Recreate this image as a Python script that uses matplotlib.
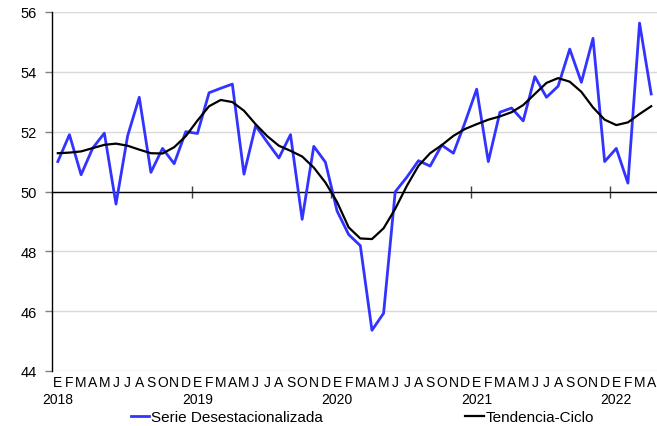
import numpy as np
import matplotlib
matplotlib.use("Agg")
import matplotlib.pyplot as plt
import matplotlib.transforms as mtransforms

plt.rcParams['font.family'] = ['Liberation Sans', 'DejaVu Sans']

# monthly data Jan 2018 - Apr 2022
meses = ['E', 'F', 'M', 'A', 'M', 'J', 'J', 'A', 'S', 'O', 'N', 'D']
anios = ['2018', '2019', '2020', '2021', '2022']
n_meses = 52

serie = [51.0, 51.9, 50.56, 51.45, 51.95, 49.58, 51.86, 53.15, 50.64, 51.44, 50.93, 52.0,
         51.94, 53.3, 53.45, 53.59, 50.58, 52.2, 51.65, 51.12, 51.9, 49.07, 51.51, 50.98,
         49.35, 48.56, 48.19, 45.36, 45.93, 49.99, 50.48, 51.03, 50.85, 51.55, 51.28, 52.31,
         53.42, 51.0, 52.65, 52.79, 52.36, 53.84, 53.15, 53.52, 54.76, 53.65, 55.12, 51.0,
         51.44, 50.28, 55.63, 53.26]
tendencia = [51.28, 51.3, 51.34, 51.45, 51.56, 51.6, 51.53, 51.4, 51.28, 51.27, 51.48, 51.85,
             52.37, 52.85, 53.06, 52.99, 52.7, 52.25, 51.85, 51.53, 51.36, 51.17, 50.8, 50.3,
             49.65, 48.8, 48.43, 48.41, 48.77, 49.42, 50.19, 50.86, 51.28, 51.55, 51.86, 52.09,
             52.25, 52.4, 52.51, 52.65, 52.89, 53.26, 53.63, 53.79, 53.67, 53.33, 52.81, 52.4,
             52.22, 52.31, 52.59, 52.85]

x = np.arange(n_meses)

fig = plt.figure(figsize=(6.57, 4.27), dpi=100)
ax = fig.add_axes([52/657, 1-372/427, 1-52/657, (372-13)/427])

ax.plot(x, serie, color='#3333ff', lw=2.0, label='Serie Desestacionalizada', zorder=3)
ax.plot(x, tendencia, color='black', lw=1.6, label='Tendencia-Ciclo', zorder=4)

ax.set_xlim(-0.5, n_meses - 0.5)
ax.set_ylim(44, 56)
ax.set_yticks(range(44, 57, 2))
ax.yaxis.grid(True, color='#d9d9d9', lw=1)
ax.set_axisbelow(True)

for s in ['top', 'right']:
    ax.spines[s].set_visible(False)
ax.spines['left'].set_color('black')
ax.spines['left'].set_linewidth(1)
ax.spines['bottom'].set_position(('data', 50))
ax.spines['bottom'].set_color('black')
ax.spines['bottom'].set_linewidth(1)
ax.spines['bottom'].set_zorder(2)

ax.set_xticks(np.arange(11.5, n_meses, 12))
ax.tick_params(axis='x', direction='inout', length=8, width=1, color='#404040', labelbottom=False)
ax.tick_params(axis='y', direction='out', length=5, width=1, color='#808080', labelsize=10.5, pad=6)

# month letters and years under the plot
trans = mtransforms.blended_transform_factory(ax.transData, fig.transFigure)
for i in x:
    ax.text(i, 1-383/427, meses[i % 12], transform=trans, ha='center', va='center', fontsize=10)
for k, a in enumerate(anios):
    ax.text(12*k, 1-400/427, a, transform=trans, ha='center', va='center', fontsize=10)

fig.legend(loc='center', bbox_to_anchor=(0.552, 1-418/427), ncol=2, frameon=False,
           fontsize=11, handlelength=1.2, handletextpad=0.15, columnspacing=9.3)

fig.savefig('out.png', dpi=100)
